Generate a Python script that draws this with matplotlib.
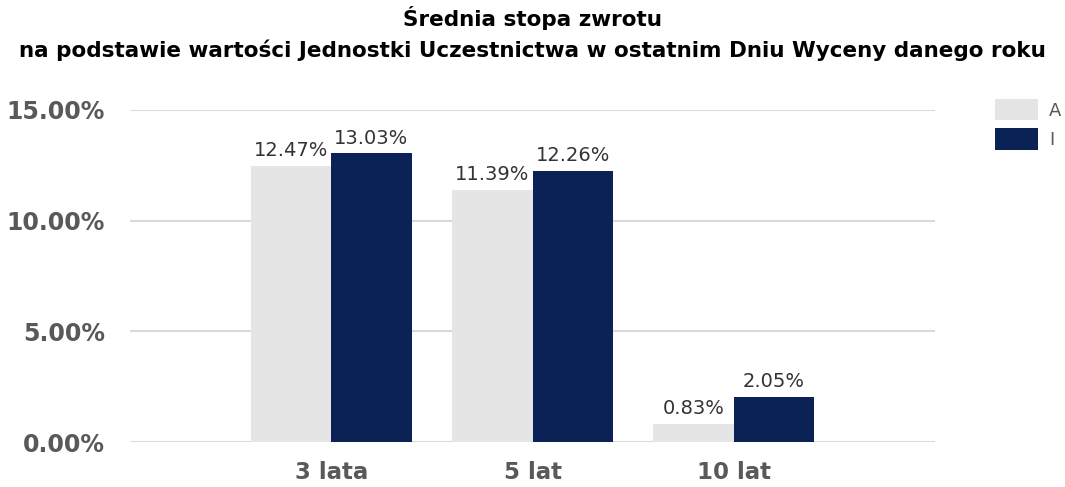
import numpy as np
import matplotlib
matplotlib.use("Agg")
import matplotlib.pyplot as plt
from matplotlib.patches import Patch

categories = ["3 lata", "5 lat", "10 lat"]
series_a = [12.47, 11.39, 0.83]
series_i = [13.03, 12.26, 2.05]
yticks = [0, 5, 10, 15]

color_a = "#e5e5e5"
color_i = "#0b2256"
gray = "#595959"

fig = plt.figure(figsize=(10.65, 4.87), dpi=100)
ax = fig.add_axes([0.122, 0.0924, 0.756, 0.682])

x = np.arange(len(categories))
w = 0.4
bars_a = ax.bar(x - w / 2, series_a, width=w, color=color_a, zorder=2)
bars_i = ax.bar(x + w / 2, series_i, width=w, color=color_i, zorder=2)

for bars, vals in ((bars_a, series_a), (bars_i, series_i)):
    for b, v in zip(bars, vals):
        ax.annotate(f"{v:.2f}%", (b.get_x() + b.get_width() / 2, v),
                    xytext=(0, 4), textcoords="offset points",
                    ha="center", va="bottom", fontsize=14, color="#333333")

ax.set_xlim(-1, 3)
ax.set_ylim(0, 15)
ax.set_yticks(yticks)
ax.set_yticklabels([f"{t:.2f}%" for t in yticks], fontsize=17,
                   fontweight="bold", color=gray)
ax.set_xticks(x)
ax.set_xticklabels(categories, fontsize=16.5, fontweight="bold", color=gray)
ax.tick_params(axis="both", length=0)
ax.tick_params(axis="y", pad=18)
ax.tick_params(axis="x", pad=14)
ax.grid(axis="y", color="#d9d9d9", linewidth=1.5, zorder=0)
ax.set_axisbelow(True)
for s in ax.spines.values():
    s.set_visible(False)

fig.text(0.5, 0.963, "Średnia stopa zwrotu", ha="center", va="center",
         fontsize=15.5, fontweight="bold")
fig.text(0.5, 0.897,
         "na podstawie wartości Jednostki Uczestnictwa w ostatnim Dniu Wyceny danego roku",
         ha="center", va="center", fontsize=15.5, fontweight="bold")

handles = [Patch(facecolor=color_a, label="A"), Patch(facecolor=color_i, label="I")]
fig.legend(handles=handles, loc="upper left", bbox_to_anchor=(0.934, 0.797),
           frameon=False, fontsize=13, handlelength=2.4, handleheight=1.45,
           handletextpad=0.6, labelspacing=0.45, borderpad=0, borderaxespad=0,
           labelcolor=gray)

fig.savefig("out.png", dpi=100)
